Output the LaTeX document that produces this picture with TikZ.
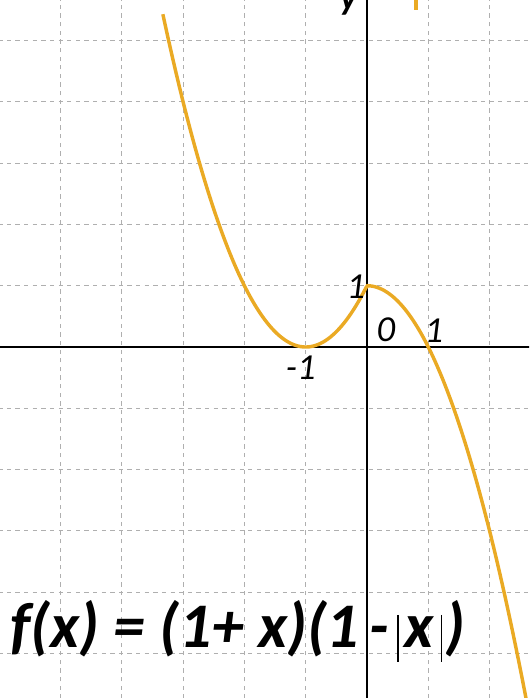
\documentclass[tikz,border=0pt]{standalone}
\usepackage{fontspec}
\newfontfamily\carlito{Carlito}
\usetikzlibrary{positioning}

\definecolor{curveorange}{RGB}{234,170,36}
\definecolor{gridgray}{RGB}{175,175,175}

\begin{document}
\begin{tikzpicture}[scale=1,
  gridline/.style={gridgray, line width=0.5pt, dash pattern=on 2pt off 2pt},
  axisline/.style={black, line width=0.7pt},
  curve/.style={curveorange, line width=1.6pt},
  lbl/.style={inner sep=0pt, font=\carlito\itshape\fontsize{17}{17}\selectfont},
  fx/.style={inner sep=0pt, anchor=base west, font=\carlito\bfseries\itshape\fontsize{29.5}{29.5}\selectfont},
  bar/.style={black, line width=0.6pt}
]

% --- frame of the picture ---
\useasboundingbox (-5.987,-5.726) rectangle (2.643,5.661);
\clip (-5.987,-5.726) rectangle (2.643,5.661);

% --- dashed grid ---
\draw[gridline] (-7,-7) grid (3,6);

% --- axes ---
\draw[axisline] (-6,0) -- (2.7,0);
\draw[axisline] (0,-5.8) -- (0,5.7);

% --- graph of f ---
\draw[curve] plot[domain=-3.33:2.7, samples=160, smooth]
  (\x,{(1+\x)*(1-abs(\x))});

% cut-off legend mark and axis letter at the top edge
\coordinate (mtop) at (0.80,5.70);
\coordinate (mbot) at (0.80,5.50);
\draw[curve, line width=2.2pt] (mtop) -- (mbot);
\node[lbl, anchor=base west, font=\carlito\bfseries\itshape\fontsize{17}{17}\selectfont] (ylab) at (-0.45,5.50) {y};

% --- axis labels ---
\node[lbl] (one-y) at (-0.18,0.98) {1};
\node[lbl] (zero) at (0.31,0.28) {0};
\node[lbl] (one-x) at (1.09,0.26) {1};
\node[lbl] (mone) at (-1.08,-0.34) {-1};

% --- formula ---
\node[fx] (lhs) at (-5.82,-4.91) {f(x) = (1+ x)(1};
\node[fx] (minus) at (0.04,-4.91) {-};
\node[fx] (absx) at (0.60,-4.91) {x};
\node[fx] (rpar) at (1.28,-4.91) {)};
\draw[bar] (0.506,-4.37) -- (0.506,-5.14);
\draw[bar] (1.22,-4.37) -- (1.22,-5.14);

\end{tikzpicture}
\end{document}
